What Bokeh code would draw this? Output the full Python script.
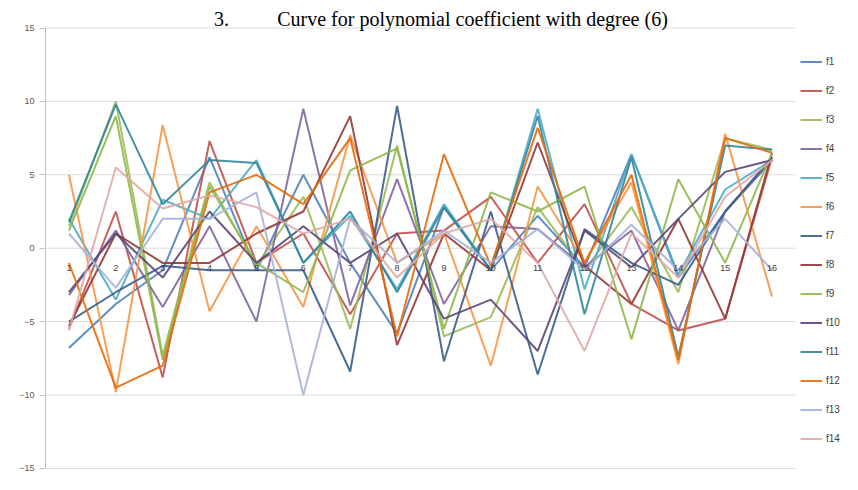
from bokeh.plotting import figure
from bokeh.models import Range1d, FixedTicker, Legend, LegendItem, Label
from bokeh.core.properties import value
from bokeh.embed import file_html
from bokeh.resources import INLINE

categories = list(range(1, 17))
x_labels = [str(c) for c in categories]
y_ticks = [-15, -10, -5, 0, 5, 10, 15]
series_names = ["f1", "f2", "f3", "f4", "f5", "f6", "f7",
                "f8", "f9", "f10", "f11", "f12", "f13", "f14"]

f1 = [-6.8, -3.8, -1.5, 6.2, -1.5, 5.0, -1.0, -5.8, 2.8, -1.5, 2.2, -1.3, 6.4, -2.0, 2.5, 6.0]
f2 = [-5.5, 2.5, -8.8, 7.3, -1.0, 1.0, -4.5, 1.0, 1.2, 3.5, -1.0, 3.0, -3.8, -5.6, -4.8, 6.2]
f3 = [1.5, 10.0, -7.3, 4.5, -1.2, 3.5, -5.5, 7.0, -6.0, -4.7, 2.8, -1.5, 2.8, -3.0, 7.5, 6.7]
f4 = [-3.2, 1.2, -4.0, 1.5, -5.0, 9.5, -3.9, 4.7, -3.8, 1.5, 1.3, -1.3, 1.2, -5.6, 2.5, 6.0]
f5 = [2.0, -3.5, 3.3, 2.0, 6.0, -1.0, 2.2, -2.8, 3.0, -1.5, 9.5, -2.8, 6.4, -1.8, 4.0, 6.0]
f6 = [5.0, -9.8, 8.4, -4.3, 1.5, -4.0, 7.7, -1.0, 1.0, -8.0, 4.2, -1.0, 4.5, -7.9, 7.8, -3.3]
f7 = [-5.0, -3.0, -1.2, -1.5, -1.5, -1.5, -8.4, 9.7, -7.7, 2.5, -8.6, 1.3, -1.0, -2.5, 2.5, 6.2]
f8 = [-5.3, 1.0, -1.0, -1.0, 1.0, 2.5, 9.0, -6.6, 1.0, -1.5, 7.2, -1.2, -3.8, 2.0, -4.8, 6.5]
f9 = [1.2, 9.0, -7.6, 4.2, -1.0, -3.0, 5.3, 6.8, -5.5, 3.8, 2.5, 4.2, -6.2, 4.7, -1.0, 6.5]
f10 = [-3.0, 1.0, -2.0, 2.5, -1.0, 1.5, -1.0, 1.0, -4.8, -3.5, -7.0, 1.2, -1.3, 2.0, 5.2, 6.0]
f11 = [1.8, 9.8, 3.0, 6.0, 5.8, -1.0, 2.5, -3.0, 2.8, -1.5, 9.0, -4.5, 6.2, -7.4, 7.0, 6.7]
f12 = [-1.0, -9.5, -8.0, 3.8, 5.0, 3.0, 7.5, -6.0, 6.4, -1.2, 8.2, -1.0, 5.0, -7.6, 7.5, 6.5]
f13 = [1.0, -2.7, 2.0, 2.0, 3.8, -10.0, 2.0, -1.0, 1.2, -1.0, 1.3, -1.5, 1.6, -1.5, 2.0, -1.5]
f14 = [-5.6, 5.5, 2.7, 3.6, 2.8, 1.0, 2.0, -2.0, 1.0, 2.0, -1.0, -7.0, 1.0, -2.0, 3.5, 6.0]

series_values = [f1, f2, f3, f4, f5, f6, f7, f8, f9, f10, f11, f12, f13, f14]
colors = ["#4F81BD", "#C0504D", "#9BBB59", "#8064A2", "#4BACC6", "#F79646", "#385D8A",
          "#953735", "#8DB84A", "#5C4776", "#31859C", "#E46C0A", "#A6B4DA", "#E0A8A6"]

W, H = 842, 474
PX_X = 46.875          # pixels per category
PX_Y = 14.68           # pixels per y unit
x_lo = categories[0] - 0.5
x_hi = categories[-1] + 0.5
frame_left = 44

x_start = x_lo - 1.0 / PX_X
x_end = x_start + (W - frame_left) / PX_X
y_top = y_ticks[-1] + 27.5 / PX_Y
y_bot = y_top - H / PX_Y

p = figure(width=W, height=H, output_backend="svg", toolbar_location=None,
           x_range=Range1d(x_start, x_end), y_range=Range1d(y_bot, y_top),
           min_border_left=frame_left, min_border_right=0, min_border_top=0, min_border_bottom=0)
p.title.visible = False
p.outline_line_color = None
p.background_fill_color = "white"
p.border_fill_color = "white"

p.xaxis.visible = False
p.xgrid.visible = False
p.ygrid.visible = False
p.yaxis.ticker = FixedTicker(ticks=y_ticks)
p.yaxis.minor_tick_line_color = None
p.yaxis.major_tick_in = 0
p.yaxis.major_tick_out = 5
p.yaxis.major_tick_line_color = "#bfbfbf"
p.yaxis.axis_line_color = None
p.yaxis.major_label_standoff = 5
p.yaxis.major_label_text_font = "Liberation Sans"
p.yaxis.major_label_text_font_size = "9px"
p.yaxis.major_label_text_color = "#595959"

# horizontal gridlines over the category area only, and the vertical axis line
p.segment(x0=x_lo, y0=y_ticks, x1=x_hi, y1=y_ticks, line_color="#d9d9d9", line_width=1)
p.segment(x0=x_lo, y0=y_ticks[0], x1=x_lo, y1=y_ticks[-1], line_color="#bfbfbf", line_width=1)

renderers = []
for name, vals, col in zip(series_names, series_values, colors):
    r = p.line(categories, vals, line_color=col, line_width=2, line_alpha=0.9)
    renderers.append(r)

p.text(x=categories, y=0, text=x_labels, text_font=value("Liberation Sans"),
       text_font_size="9px", text_color="#404040", text_align="center",
       text_baseline="middle", y_offset=20)

items = [LegendItem(label=n, renderers=[r]) for n, r in zip(series_names, renderers)]
legend = Legend(items=items, location=(756, 25), glyph_width=22, glyph_height=21,
                label_height=21, spacing=8, padding=0, margin=0,
                border_line_color=None, background_fill_alpha=0,
                label_text_font="Liberation Sans", label_text_font_size="10px",
                label_text_color="#404040", label_standoff=4)
p.add_layout(legend)

p.add_layout(Label(x=177, y=H - 18, x_units="screen", y_units="screen", text="3.",
                   text_align="center", text_baseline="alphabetic",
                   text_font="Liberation Serif", text_font_size="20px", text_color="black"))
p.add_layout(Label(x=428, y=H - 18, x_units="screen", y_units="screen",
                   text="Curve for polynomial coefficient with degree (6)",
                   text_align="center", text_baseline="alphabetic",
                   text_font="Liberation Serif", text_font_size="20px", text_color="black"))

open("out.html", "w").write(file_html(p, INLINE))
